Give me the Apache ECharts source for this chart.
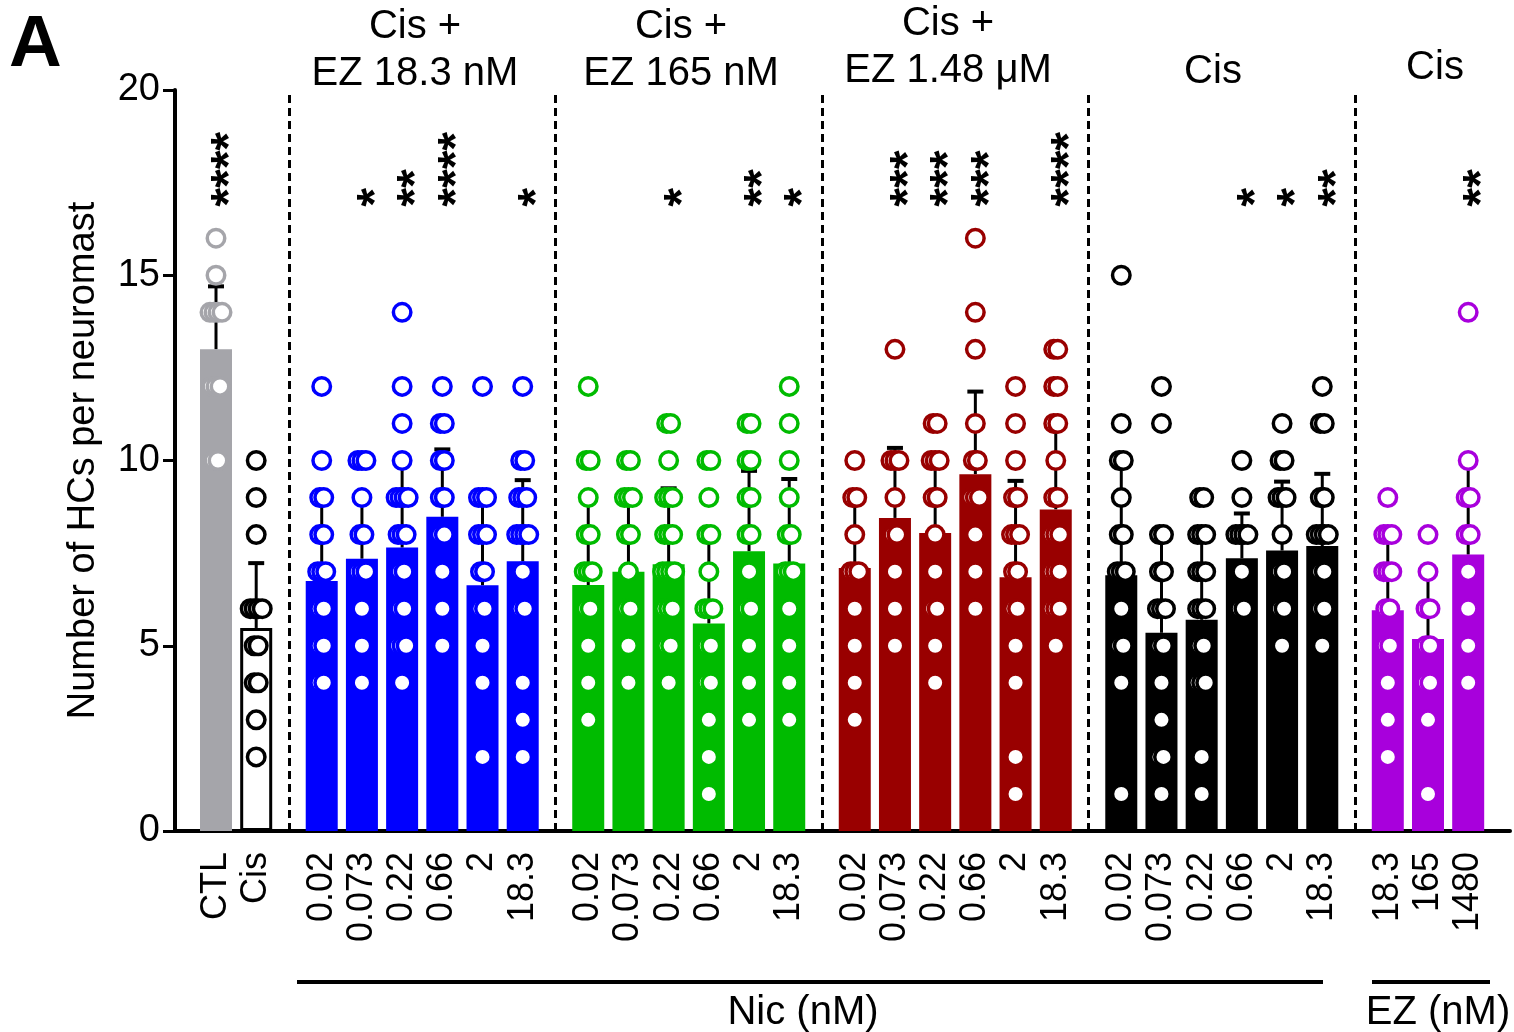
<!DOCTYPE html>
<html><head><meta charset="utf-8">
<script src="https://cdn.jsdelivr.net/npm/echarts@6/dist/echarts.min.js"></script>
<style>html,body{margin:0;padding:0;background:#fff}#c{width:1514px;height:1032px}</style>
</head><body><div id="c"></div>
<script>
// ---------------- DATA ----------------
const labels = ['CTL','Cis',
  '0.02','0.073','0.22','0.66','2','18.3',
  '0.02','0.073','0.22','0.66','2','18.3',
  '0.02','0.073','0.22','0.66','2','18.3',
  '0.02','0.073','0.22','0.66','2','18.3',
  '18.3','165','1480'];
const groupOf = [0,0, 1,1,1,1,1,1, 2,2,2,2,2,2, 3,3,3,3,3,3, 4,4,4,4,4,4, 5,5,5];
const groupTitles = ['', 'Cis +\nEZ 18.3 nM', 'Cis +\nEZ 165 nM', 'Cis +\nEZ 1.48 μM', 'Cis', 'Cis'];
const means = [13.0, 5.48,
  6.75, 7.35, 7.65, 8.48, 6.63, 7.28,
  6.64, 7.0, 7.2, 5.6, 7.55, 7.22,
  7.1, 8.45, 8.04, 9.63, 6.85, 8.68,
  6.9, 5.35, 5.7, 7.36, 7.57, 7.69,
  5.96, 5.18, 7.46];
const sds = [1.7, 1.75,
  2.15, 1.6, 2.3, 1.82, 2.2, 2.19,
  2.35, 2.0, 2.05, 2.4, 2.17, 2.28,
  1.9, 1.89, 1.96, 2.23, 2.6, 2.3,
  3.1, 2.65, 2.1, 1.21, 1.86, 1.95,
  2.0, 1.8, 2.5];
const stars = ['****','',
  '','*','**','****','','*',
  '','','*','','**','*',
  '','***','***','***','','****',
  '','','','*','*','**',
  '','','**'];
const ptsCtlCis = [
  [16,15,14,14,14,14,12,12,12,10,10],
  [10,9,8,6,6,6,6,5,5,4,4,3,2]];
const ptsBlue = [
  [12,10,9,9,8,8,7,7,7,6,6,5,5,4,4],
  [10,10,10,9,8,8,7,7,7,6,5,4],
  [14,12,11,10,9,9,9,9,8,8,8,7,7,6,6,5,5,5,4],
  [12,11,11,10,10,9,9,8,8,7,6,5],
  [12,9,9,9,8,8,8,7,7,6,6,5,4,2],
  [12,10,10,9,9,9,8,8,8,8,7,6,6,4,3,2]];
const ptsGreen = [
  [12,10,10,9,8,8,7,7,7,6,6,5,4,3],
  [10,10,9,9,9,8,8,7,6,6,5,4],
  [11,11,10,9,9,9,8,8,8,7,7,7,7,6,6,6,5,5,4],
  [10,10,9,8,8,7,6,6,6,5,5,4,4,3,2,1],
  [11,11,10,10,9,9,8,8,7,6,6,5,4,3],
  [12,11,10,9,8,8,7,7,7,6,5,4,3]];
const ptsRed = [
  [10,9,9,8,7,7,7,6,5,4,3],
  [13,10,10,10,9,8,8,7,6,5],
  [11,11,10,10,10,9,9,8,7,6,6,5,4],
  [16,14,13,11,10,10,9,9,9,8,7,6],
  [12,11,10,9,9,8,8,8,7,7,6,6,5,4,2,1],
  [13,13,12,12,11,11,10,9,9,8,8,8,7,7,7,6,6,6,5]];
const ptsBlack = [
  [15,11,10,10,9,8,8,7,7,7,6,5,5,4,1],
  [12,11,8,8,7,7,6,6,6,5,5,4,3,2,2,1],
  [9,9,8,8,8,7,7,7,6,6,6,5,5,4,4,4,2,1],
  [10,9,8,8,8,8,7,6,6],
  [11,10,10,9,9,9,8,7,7,6,6,5],
  [12,11,11,9,9,8,8,8,8,7,7,6,6,5]];
const ptsPurple = [
  [9,8,8,8,7,7,7,6,6,5,5,4,3,2],
  [8,7,6,6,5,5,4,4,3,1],
  [14,10,9,9,8,8,7,6,5,4]];
const yTicks = [0, 5, 10, 15, 20];

// ---------------- STYLE / LAYOUT ----------------
const FONT = '"Liberation Sans", Arial, Helvetica, sans-serif';
const barFill = ['#a5a5aa','#ffffff','#0000ff','#00bb00','#990000','#000000','#a800dc'];
const dotStroke = ['#a5a5aa','#000000','#0000ff','#00bb00','#990000','#000000','#a800dc'];
const colorKey = labels.map((_, k) => k < 2 ? k : groupOf[k] + 1);
const GAP = 0.63;
const POS = labels.map((_, k) => k + GAP * groupOf[k]);
const points = [].concat(ptsCtlCis, ptsBlue, ptsGreen, ptsRed, ptsBlack, ptsPurple);
const JIT = 0.1;
const STAR_Y = 16.85;

const dotData = [];
points.forEach((arr, k) => {
  const counts = {};
  arr.forEach(v => counts[v] = (counts[v] || 0) + 1);
  const seen = {};
  arr.forEach(v => {
    const n = counts[v]; const j = seen[v] || 0; seen[v] = j + 1;
    dotData.push({ value: [POS[k] + (j - (n - 1) / 2) * JIT, v],
      itemStyle: { borderColor: dotStroke[colorKey[k]] } });
  });
});

const dividers = [];
for (let k = 1; k < labels.length; k++) {
  if (groupOf[k] !== groupOf[k - 1]) dividers.push({ xAxis: (POS[k] + POS[k - 1]) / 2 });
}

function txt(x, y, text, font, align, vAlign, extra) {
  return Object.assign({ type: 'text', x: x, y: y,
    style: Object.assign({ text: text, font: font, fill: '#000',
      align: align, verticalAlign: vAlign, textAlign: align, textVerticalAlign: vAlign }, extra || {}) });
}

const chart = echarts.init(document.getElementById('c'), null, { renderer: 'canvas' });
chart.setOption({
  animation: false,
  backgroundColor: '#fff',
  grid: { left: 175, right: 4, top: 90, bottom: 201 },
  xAxis: {
    type: 'value', min: -1.02, max: 32.19,
    axisLine: { show: true, onZero: false, lineStyle: { color: '#000', width: 4 } },
    axisTick: { show: false }, axisLabel: { show: false }, splitLine: { show: false }
  },
  yAxis: {
    type: 'value', min: 0, max: 20, interval: 5,
    name: 'Number of HCs per neuromast', nameLocation: 'middle', nameGap: 72,
    nameTextStyle: { fontFamily: FONT, fontSize: 38, color: '#000' },
    axisLine: { show: true, onZero: false, lineStyle: { color: '#000', width: 4 } },
    axisTick: { show: true, length: 12, lineStyle: { color: '#000', width: 3 } },
    axisLabel: { fontFamily: FONT, fontSize: 38, color: '#000', margin: 15,
      formatter: v => yTicks.indexOf(v) >= 0 ? String(v) : '' },
    splitLine: { show: false }
  },
  series: [
    {
      type: 'bar', barWidth: 32,
      data: means.map((m, k) => ({ value: [POS[k], m],
        itemStyle: { color: barFill[colorKey[k]],
          borderColor: k === 1 ? '#000' : barFill[colorKey[k]], borderWidth: k === 1 ? 3 : 0 } })),
      markLine: {
        silent: true, symbol: ['none', 'none'], label: { show: false },
        lineStyle: { color: '#000', width: 3, type: [8, 5] },
        data: dividers
      }
    },
    {
      type: 'custom', encode: { x: 0, y: 1 },
      data: means.map((m, k) => [POS[k], m, sds[k]]),
      renderItem: (params, api) => {
        const x = api.value(0), m = api.value(1), s = api.value(2);
        const b = api.coord([x, m]), t = api.coord([x, m + s]);
        return { type: 'group', children: [
          { type: 'line', shape: { x1: b[0], y1: b[1], x2: t[0], y2: t[1] }, style: { stroke: '#000', lineWidth: 3 } },
          { type: 'line', shape: { x1: t[0] - 8, y1: t[1], x2: t[0] + 8, y2: t[1] }, style: { stroke: '#000', lineWidth: 4 } }
        ]};
      }
    },
    {
      type: 'scatter', symbol: 'circle', symbolSize: 17.5,
      itemStyle: { color: '#fff', borderWidth: 3.5, opacity: 1 },
      data: dotData
    },
    {
      type: 'custom', encode: { x: 0, y: 1 },
      data: stars.map((s, k) => [POS[k], STAR_Y, k]).filter(d => stars[d[2]]),
      renderItem: (params, api) => {
        const k = api.value(2);
        const p = api.coord([api.value(0), api.value(1)]);
        return { type: 'text', x: p[0] + 15, y: p[1], rotation: Math.PI / 2,
          style: { text: stars[k], font: 'bold 48px ' + FONT, fill: '#000',
            align: 'left', verticalAlign: 'middle', textAlign: 'left', textVerticalAlign: 'middle' } };
      }
    },
    {
      type: 'custom', encode: { x: 0, y: 1 },
      data: labels.map((l, k) => [POS[k], 0, k]),
      renderItem: (params, api) => {
        const k = api.value(2);
        const p = api.coord([api.value(0), 0]);
        return { type: 'text', x: p[0], y: p[1] + 21, rotation: Math.PI / 2,
          style: { text: labels[k], font: '36px ' + FONT, fill: '#000',
            align: 'right', verticalAlign: 'middle', textAlign: 'right', textVerticalAlign: 'middle' } };
      }
    }
  ],
  graphic: [
    txt(9, 46, 'A', 'bold 73px ' + FONT, 'left', 'middle'),
    txt(415, 3, groupTitles[1], '40px ' + FONT, 'center', 'top', { lineHeight: 47 }),
    txt(681, 3, groupTitles[2], '40px ' + FONT, 'center', 'top', { lineHeight: 47 }),
    txt(948, 0, groupTitles[3], '40px ' + FONT, 'center', 'top', { lineHeight: 47 }),
    txt(1213, 72, groupTitles[4], '40px ' + FONT, 'center', 'middle'),
    txt(1435, 68, groupTitles[5], '40px ' + FONT, 'center', 'middle'),
    { type: 'line', shape: { x1: 297, y1: 982, x2: 1323, y2: 982 }, style: { stroke: '#000', lineWidth: 4 } },
    { type: 'line', shape: { x1: 1372, y1: 982, x2: 1490, y2: 982 }, style: { stroke: '#000', lineWidth: 4 } },
    txt(803, 1013, 'Nic (nM)', '40px ' + FONT, 'center', 'middle'),
    txt(1438, 1013, 'EZ (nM)', '40px ' + FONT, 'center', 'middle')
  ]
});
</script>
</body></html>
